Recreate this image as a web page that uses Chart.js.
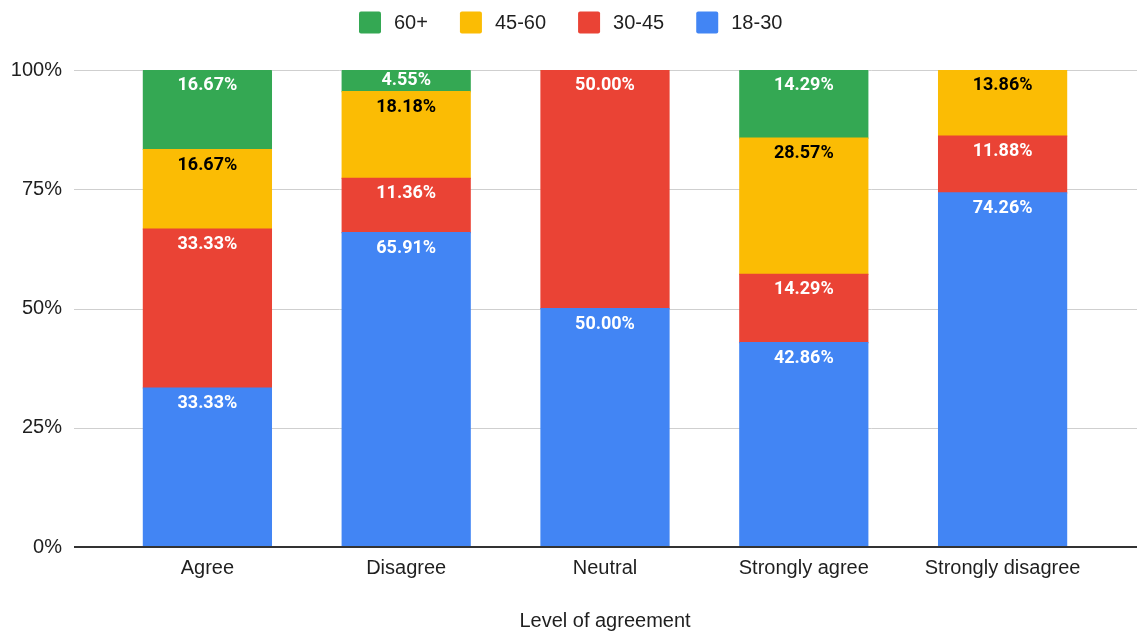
<!DOCTYPE html>
<html>
<head>
<meta charset="utf-8">
<script src="https://cdn.jsdelivr.net/npm/chart.js@4/dist/chart.umd.min.js"></script>
<style>
  html, body { margin: 0; padding: 0; background: #fff; }
  #wrap { width: 1139px; height: 634px; }
</style>
</head>
<body>
<div id="wrap"><canvas id="c" width="1139" height="634"></canvas></div>
<script>
// Share of each age group within every level of agreement (percent)
const categories = ['Agree', 'Disagree', 'Neutral', 'Strongly agree', 'Strongly disagree'];
const ageGroups = ['18-30', '30-45', '45-60', '60+'];
const age18to30 = [33.33, 65.91, 50.00, 42.86, 74.26];
const age30to45 = [33.33, 11.36, 50.00, 14.29, 11.88];
const age45to60 = [16.67, 18.18, 0, 28.57, 13.86];
const age60plus = [16.67, 4.55, 0, 14.29, 0];
const yTicks = [0, 25, 50, 75, 100];
const xTitle = 'Level of agreement';

const FILL = ['#4285F4', '#EA4335', '#FBBC04', '#34A853'];
const INK = ['#ffffff', '#ffffff', '#000000', '#ffffff'];
const seriesValues = [age18to30, age30to45, age45to60, age60plus];

// the top-most non-empty segment of a stack gets rounded upper corners
function isStackTop(ctx) {
  const j = ctx.dataIndex;
  for (let k = seriesValues.length - 1; k >= 0; k--) {
    if (seriesValues[k][j] > 0) return k === ctx.datasetIndex;
  }
  return false;
}

const datasets = ageGroups.map((name, i) => ({
  label: name,
  data: seriesValues[i],
  backgroundColor: FILL[i],
  borderWidth: 0,
  borderSkipped: false,
  inflateAmount: 0.6,
  borderRadius: (ctx) => isStackTop(ctx)
    ? { topLeft: 2, topRight: 2, bottomLeft: 0, bottomRight: 0 }
    : 0,
  categoryPercentage: 1,
  barPercentage: 0.644
}));

// horizontal rules that run past the bar area, plus the dark baseline
const gridPlugin = {
  id: 'wideGrid',
  beforeDatasetsDraw(chart) {
    const { ctx, scales: { y } } = chart;
    const x0 = 74, x1 = 1137;
    ctx.save();
    yTicks.forEach(t => {
      if (t === 0) return;
      const py = Math.round(y.getPixelForValue(t)) + 0.5;
      ctx.strokeStyle = '#cfcfcf';
      ctx.lineWidth = 1;
      ctx.beginPath(); ctx.moveTo(x0, py); ctx.lineTo(x1, py); ctx.stroke();
    });
    ctx.restore();
  },
  afterDatasetsDraw(chart) {
    const { ctx, scales: { y } } = chart;
    const py = y.getPixelForValue(0);
    ctx.save();
    ctx.strokeStyle = '#333333';
    ctx.lineWidth = 2;
    ctx.beginPath(); ctx.moveTo(74, py); ctx.lineTo(1137, py); ctx.stroke();
    ctx.restore();
  }
};

// value labels near the top of each segment
const valueLabels = {
  id: 'valueLabels',
  afterDatasetsDraw(chart) {
    const ctx = chart.ctx;
    ctx.save();
    ctx.font = 'bold 18px Roboto, "Liberation Sans", Arial, sans-serif';
    ctx.textAlign = 'center';
    ctx.textBaseline = 'middle';
    chart.data.datasets.forEach((ds, i) => {
      const meta = chart.getDatasetMeta(i);
      meta.data.forEach((bar, j) => {
        const v = ds.data[j];
        if (!v) return;
        const top = Math.min(bar.y, bar.base);
        const h = Math.abs(bar.base - bar.y);
        ctx.fillStyle = INK[i];
        ctx.fillText(v.toFixed(2) + '%', bar.x, top + Math.min(15.5, h / 2));
      });
    });
    ctx.restore();
  }
};

// legend row across the top, listed from the top series down
const topLegend = {
  id: 'topLegend',
  afterDraw(chart) {
    const ctx = chart.ctx;
    const box = 22, gapText = 13, gapItem = 32;
    ctx.save();
    ctx.font = '20px "Liberation Sans", Arial, sans-serif';
    ctx.textBaseline = 'middle';
    ctx.textAlign = 'left';
    const order = chart.data.datasets.map((d, i) => i).reverse();
    const widths = order.map(i => box + gapText + ctx.measureText(chart.data.datasets[i].label).width);
    const total = widths.reduce((a, b) => a + b, 0) + gapItem * (order.length - 1);
    let x = Math.round(chart.width / 2 + 1 - total / 2);
    const cy = 22.5;
    order.forEach((i, k) => {
      const ds = chart.data.datasets[i];
      ctx.fillStyle = ds.backgroundColor;
      ctx.beginPath();
      ctx.roundRect(x, cy - box / 2, box, box, 2);
      ctx.fill();
      ctx.fillStyle = '#1f1f1f';
      ctx.fillText(ds.label, x + box + gapText, cy + 1);
      x += widths[k] + gapItem;
    });
    ctx.restore();
  }
};

new Chart(document.getElementById('c'), {
  type: 'bar',
  data: { labels: categories, datasets },
  options: {
    responsive: false,
    animation: false,
    layout: { padding: { top: 70, right: 37, left: 0, bottom: 0 } },
    plugins: { legend: { display: false }, tooltip: { enabled: false } },
    scales: {
      x: {
        stacked: true,
        grid: { display: false, drawTicks: false },
        border: { display: false },
        ticks: {
          padding: 9,
          color: '#1f1f1f',
          font: { family: '"Liberation Sans", Arial, sans-serif', size: 20 }
        },
        title: {
          display: true,
          text: xTitle,
          color: '#1f1f1f',
          font: { family: '"Liberation Sans", Arial, sans-serif', size: 20 },
          padding: { top: 0, bottom: 1 }
        },
        afterFit(scale) { scale.height = 87; }
      },
      y: {
        stacked: true,
        min: 0,
        max: 100,
        grid: { display: false, drawTicks: false },
        border: { display: false },
        afterBuildTicks(scale) { scale.ticks = yTicks.map(v => ({ value: v })); },
        ticks: {
          padding: 46,
          color: '#1f1f1f',
          font: { family: '"Liberation Sans", Arial, sans-serif', size: 20 },
          callback: (v) => v + '%'
        },
        afterFit(scale) { scale.width = 108; }
      }
    }
  },
  plugins: [gridPlugin, valueLabels, topLegend]
});
</script>
</body>
</html>
